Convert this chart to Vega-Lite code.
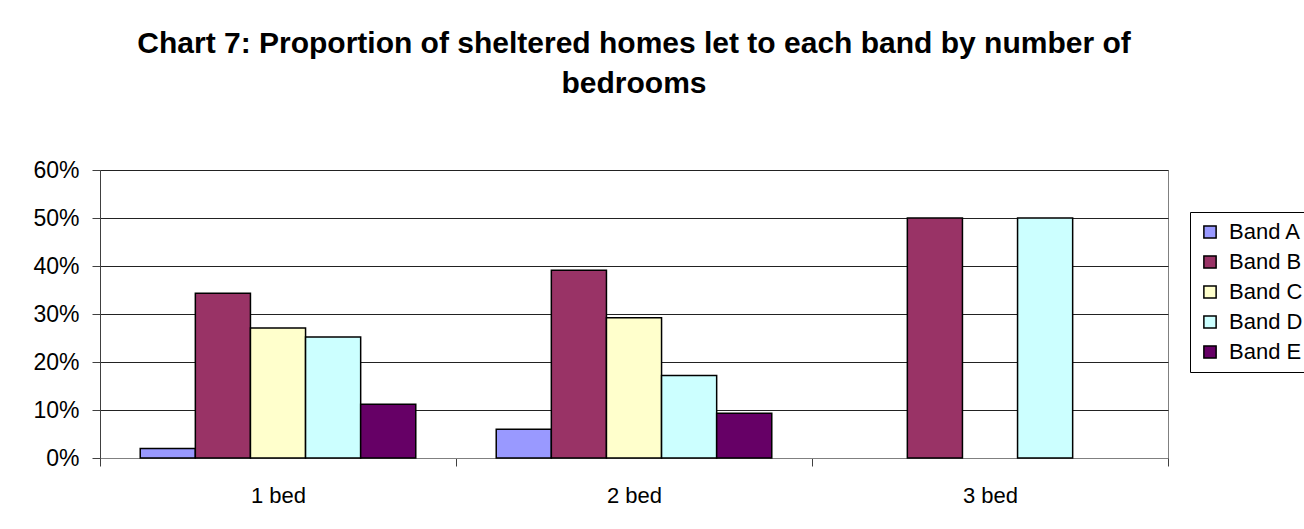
{
  "$schema": "https://vega.github.io/schema/vega-lite/v6.json",
  "width": 1068,
  "height": 288,
  "autosize": {"type": "none"},
  "padding": {"left": 100, "top": 170, "right": 136, "bottom": 71},
  "background": "white",
  "title": {
    "text": ["Chart 7: Proportion of sheltered homes let to each band by number of", "bedrooms"],
    "font": "Liberation Sans",
    "fontSize": 30,
    "fontWeight": "bold",
    "color": "black",
    "anchor": "middle",
    "lineHeight": 40,
    "offset": 60
  },
  "data": {
    "values": [
      {"bedrooms": "1 bed", "band": "Band A", "share": 0.02},
      {"bedrooms": "1 bed", "band": "Band B", "share": 0.343},
      {"bedrooms": "1 bed", "band": "Band C", "share": 0.271},
      {"bedrooms": "1 bed", "band": "Band D", "share": 0.252},
      {"bedrooms": "1 bed", "band": "Band E", "share": 0.112},
      {"bedrooms": "2 bed", "band": "Band A", "share": 0.06},
      {"bedrooms": "2 bed", "band": "Band B", "share": 0.391},
      {"bedrooms": "2 bed", "band": "Band C", "share": 0.292},
      {"bedrooms": "2 bed", "band": "Band D", "share": 0.172},
      {"bedrooms": "2 bed", "band": "Band E", "share": 0.093},
      {"bedrooms": "3 bed", "band": "Band B", "share": 0.5},
      {"bedrooms": "3 bed", "band": "Band D", "share": 0.5}
    ]
  },
  "mark": {"type": "bar", "stroke": "black", "strokeWidth": 1.5},
  "encoding": {
    "x": {
      "field": "bedrooms",
      "type": "nominal",
      "sort": ["1 bed", "2 bed", "3 bed"],
      "scale": {"paddingInner": 0, "paddingOuter": 0},
      "axis": {
        "title": null,
        "labelAngle": 0,
        "tickBand": "extent",
        "ticks": true,
        "tickSize": 8,
        "tickColor": "#404040",
        "domainColor": "#808080",
        "domainWidth": 1,
        "labelFont": "Liberation Sans",
        "labelFontSize": 22,
        "labelColor": "black",
        "labelPadding": 19
      }
    },
    "xOffset": {
      "field": "band",
      "type": "nominal",
      "sort": ["Band A", "Band B", "Band C", "Band D", "Band E"],
      "scale": {"paddingInner": 0, "paddingOuter": 0.73}
    },
    "y": {
      "field": "share",
      "type": "quantitative",
      "scale": {"domain": [0, 0.6], "nice": false},
      "axis": {
        "title": null,
        "format": ".0%",
        "values": [0, 0.1, 0.2, 0.3, 0.4, 0.5, 0.6],
        "tickSize": 8,
        "tickColor": "#404040",
        "domainColor": "#404040",
        "grid": true,
        "gridColor": "#222222",
        "gridWidth": 1,
        "labelFont": "Liberation Sans",
        "labelFontSize": 23,
        "labelColor": "black",
        "labelPadding": 13
      }
    },
    "color": {
      "field": "band",
      "type": "nominal",
      "scale": {
        "domain": ["Band A", "Band B", "Band C", "Band D", "Band E"],
        "range": ["#9999FF", "#993366", "#FFFFCC", "#CCFFFF", "#660066"]
      },
      "legend": {
        "title": null,
        "orient": "none",
        "legendX": 1090,
        "legendY": 42,
        "strokeColor": "black",
        "fillColor": "white",
        "padding": 9,
        "symbolType": "square",
        "symbolSize": 150,
        "symbolStrokeColor": "black",
        "symbolStrokeWidth": 1.5,
        "symbolOpacity": 1,
        "labelFont": "Liberation Sans",
        "labelFontSize": 22,
        "labelColor": "black",
        "labelOffset": 8,
        "rowPadding": 8
      }
    }
  },
  "config": {
    "view": {"stroke": "#808080", "strokeWidth": 1},
    "bar": {"opacity": 1}
  }
}
